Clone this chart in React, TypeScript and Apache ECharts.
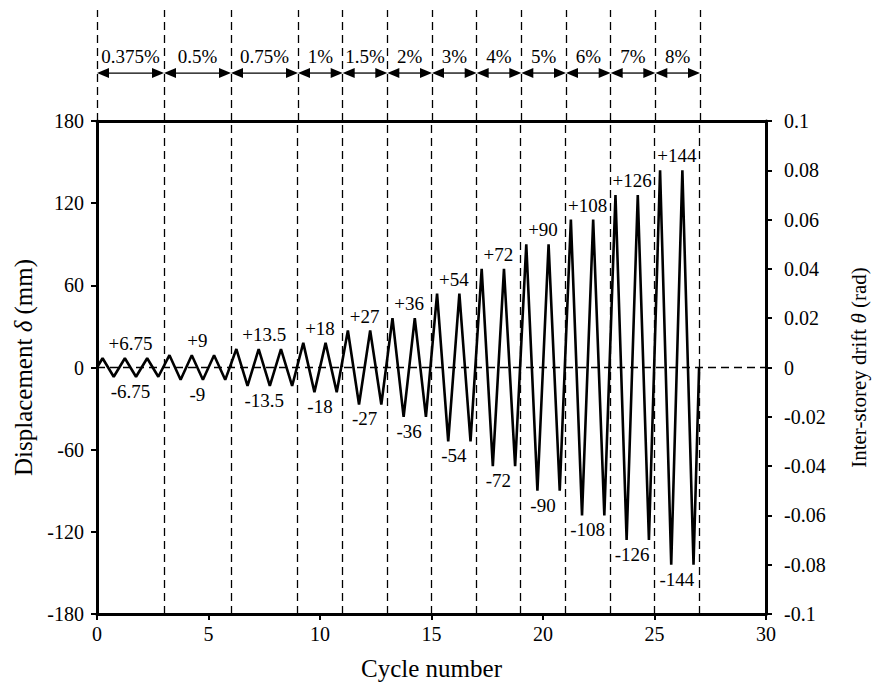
import React, { useEffect, useRef } from "react";
import * as echarts from "echarts";

// Loading protocol: drift level, displacement amplitude (mm), number of cycles
const levelDrift = ["0.375%", "0.5%", "0.75%", "1%", "1.5%", "2%", "3%", "4%", "5%", "6%", "7%", "8%"];
const levelAmp = [6.75, 9, 13.5, 18, 27, 36, 54, 72, 90, 108, 126, 144];
const levelCycles = [3, 3, 3, 2, 2, 2, 2, 2, 2, 2, 2, 2];
const xTicks = { min: 0, max: 30, interval: 5 };
const yLeftTicks = { min: -180, max: 180, interval: 60 };
const yRightTicks = { min: -0.1, max: 0.1, interval: 0.02 };

const FONT = '"Liberation Serif", "Times New Roman", serif';

export default function App() {
  const ref = useRef<HTMLDivElement>(null);

  useEffect(() => {
    if (!ref.current) return;
    const chart = echarts.init(ref.current, undefined, { renderer: "svg" });

    // level boundaries
    const bounds: number[] = [0];
    levelCycles.forEach((n) => bounds.push(bounds[bounds.length - 1] + n));

    // zigzag displacement history
    const pts: number[][] = [[0, 0]];
    let c = 0;
    levelAmp.forEach((A, k) => {
      for (let j = 0; j < levelCycles[k]; j++) {
        pts.push([c + 0.25, A], [c + 0.75, -A]);
        c++;
      }
    });
    pts.push([c, 0]);

    const centers = levelAmp.map((_, k) => (bounds[k] + bounds[k + 1]) / 2);
    const peakLabels: number[][] = [];
    levelAmp.forEach((A, k) => {
      peakLabels.push([centers[k], A]);
      peakLabels.push([centers[k], -A]);
    });

    const tickLabel = { fontFamily: FONT, fontSize: 20, color: "#000" };
    const mkName = (size: number) => ({
      fontFamily: FONT,
      fontSize: size,
      color: "#000",
      rich: { i: { fontFamily: FONT, fontSize: size, fontStyle: "italic", color: "#000" } },
    });
    const axLine = { show: true, onZero: false, lineStyle: { color: "#000", width: 3 } };
    const axTick = { show: true, length: 6, lineStyle: { color: "#000", width: 2 } };
    const dashStyle = { type: [8, 5], color: "#000", width: 1.3 };

    const arrowY = 0.432;
    const labelY = 0.577;

    chart.setOption({
      animation: false,
      grid: [
        { left: 97, right: 110, top: 121, bottom: 79 },
        { left: 97, right: 110, top: 10, height: 111 },
      ],
      xAxis: [
        {
          gridIndex: 0,
          type: "value",
          ...xTicks,
          axisLine: axLine,
          axisTick: axTick,
          axisLabel: { ...tickLabel, margin: 10 },
          splitLine: { show: false },
          name: "Cycle number",
          nameLocation: "middle",
          nameGap: 42,
          nameTextStyle: mkName(25),
        },
        {
          gridIndex: 0,
          type: "value",
          position: "top",
          ...xTicks,
          axisLine: axLine,
          axisTick: { show: false },
          axisLabel: { show: false },
          splitLine: { show: false },
        },
        { gridIndex: 1, type: "value", ...xTicks, show: false },
      ],
      yAxis: [
        {
          gridIndex: 0,
          type: "value",
          ...yLeftTicks,
          axisLine: axLine,
          axisTick: axTick,
          axisLabel: { ...tickLabel, margin: 13 },
          splitLine: { show: false },
          name: "Displacement {i|δ} (mm)",
          nameLocation: "middle",
          nameGap: 59,
          nameTextStyle: mkName(25),
        },
        {
          gridIndex: 0,
          type: "value",
          position: "right",
          ...yRightTicks,
          axisLine: axLine,
          axisTick: axTick,
          axisLabel: {
            ...tickLabel,
            margin: 18,
            formatter: (v: number) => String(parseFloat(v.toFixed(2))),
          },
          splitLine: { show: false },
          name: "Inter-storey drift {i|θ} (rad)",
          nameLocation: "middle",
          nameGap: 82,
          nameRotate: 90,
          nameTextStyle: mkName(21),
        },
        { gridIndex: 1, type: "value", min: 0, max: 1, show: false },
      ],
      series: [
        {
          type: "line",
          xAxisIndex: 0,
          yAxisIndex: 0,
          data: [[0, 0]],
          showSymbol: false,
          lineStyle: { opacity: 0 },
          silent: true,
          z: 1,
          markLine: {
            silent: true,
            symbol: "none",
            label: { show: false },
            lineStyle: dashStyle,
            data: [...bounds.slice(1).map((b) => ({ xAxis: b })), { yAxis: 0 }],
          },
        },
        {
          type: "line",
          xAxisIndex: 0,
          yAxisIndex: 0,
          data: pts,
          showSymbol: false,
          lineStyle: { color: "#000", width: 2.6 },
          z: 3,
        },
        {
          type: "custom",
          xAxisIndex: 0,
          yAxisIndex: 0,
          data: peakLabels,
          z: 4,
          renderItem: (params: any, api: any) => {
            const v = api.value(1);
            const p = api.coord([api.value(0), v]);
            const up = v > 0;
            return {
              type: "text",
              x: p[0],
              y: up ? p[1] - 5 : p[1] + 5,
              style: {
                text: (up ? "+" : "-") + Math.abs(v),
                align: "center",
                verticalAlign: up ? "bottom" : "top",
                fontFamily: FONT,
                fontSize: 19,
                fill: "#000",
              },
            };
          },
        },
        {
          type: "line",
          xAxisIndex: 2,
          yAxisIndex: 2,
          data: [[0, 0]],
          showSymbol: false,
          lineStyle: { opacity: 0 },
          silent: true,
          markLine: {
            silent: true,
            symbol: "none",
            label: { show: false },
            lineStyle: dashStyle,
            data: bounds.map((b) => ({ xAxis: b })),
          },
        },
        {
          type: "custom",
          xAxisIndex: 2,
          yAxisIndex: 2,
          data: levelDrift.map((_, k) => [bounds[k], bounds[k + 1]]),
          renderItem: (params: any, api: any) => {
            const p1 = api.coord([api.value(0), arrowY]);
            const p2 = api.coord([api.value(1), arrowY]);
            const pl = api.coord([(api.value(0) + api.value(1)) / 2, labelY]);
            const y = p1[1];
            const L = 12;
            const H = 5;
            return {
              type: "group",
              children: [
                {
                  type: "line",
                  shape: { x1: p1[0] + L - 1, y1: y, x2: p2[0] - L + 1, y2: y },
                  style: { stroke: "#000", lineWidth: 1.3 },
                },
                {
                  type: "polygon",
                  shape: { points: [[p1[0], y], [p1[0] + L, y - H], [p1[0] + L, y + H]] },
                  style: { fill: "#000" },
                },
                {
                  type: "polygon",
                  shape: { points: [[p2[0], y], [p2[0] - L, y - H], [p2[0] - L, y + H]] },
                  style: { fill: "#000" },
                },
                {
                  type: "text",
                  x: pl[0],
                  y: pl[1],
                  style: {
                    text: levelDrift[params.dataIndex],
                    align: "center",
                    verticalAlign: "middle",
                    fontFamily: FONT,
                    fontSize: 19,
                    fill: "#000",
                  },
                },
              ],
            };
          },
        },
      ],
    });

    return () => chart.dispose();
  }, []);

  return (
    <div
      ref={ref}
      style={{ position: "absolute", left: 0, top: 0, width: 877, height: 693, background: "#fff" }}
    />
  );
}
